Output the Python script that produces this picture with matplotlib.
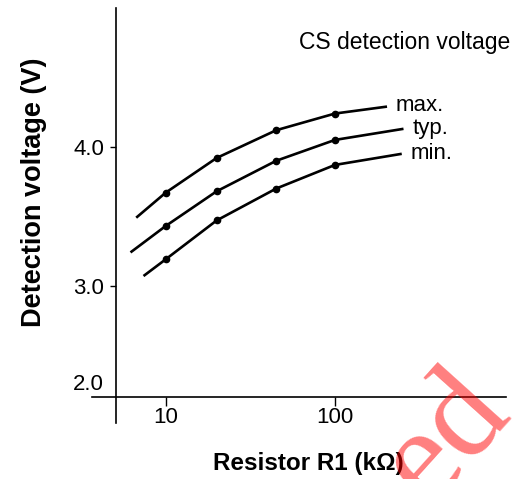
"""CS detection voltage vs resistor R1."""

import matplotlib
matplotlib.use("Agg")

import matplotlib.pyplot as plt
from matplotlib.ticker import FixedLocator, NullLocator

plt.rcParams["font.family"] = ["Liberation Sans", "DejaVu Sans"]

# ── data ─────────────────────────────────────────────────
r1_max = [6.7, 10, 20, 45, 100, 203]
v_max = [3.49, 3.67, 3.92, 4.12, 4.24, 4.29]

r1_typ = [6.2, 10, 20, 45, 100, 254]
v_typ = [3.24, 3.43, 3.68, 3.90, 4.05, 4.13]

r1_min = [7.4, 10, 20, 45, 100, 248]
v_min = [3.07, 3.19, 3.47, 3.70, 3.87, 3.95]

curve_labels = ["max.", "typ.", "min."]
x_ticks = [10, 100]
x_tick_labels = ["10", "100"]
y_ticks = [3.0, 4.0]
y_tick_labels = ["3.0", "4.0"]

fig = plt.figure(figsize=(5.16, 4.79), dpi=100)
ax = fig.add_axes([116 / 516, 82.3 / 479, 390 / 516, 388.7 / 479])

series = [(r1_max, v_max), (r1_typ, v_typ), (r1_min, v_min)]
for (xs, ys), name in zip(series, curve_labels):
    ax.plot(xs, ys, color="black", lw=1.9, solid_capstyle="butt")
    # dots only on the measured interior points
    ax.plot(xs[1:-1], ys[1:-1], "o", color="black", ms=4.5)
    ax.annotate(name, xy=(xs[-1], ys[-1]), xytext=(6.5, -3.5),
                textcoords="offset points", ha="left", va="baseline",
                fontsize=16)

ax.set_xscale("log")
ax.set_xlim(5.09, 1024)
ax.set_ylim(2.201, 5.0)

for s in ax.spines.values():
    s.set_visible(False)

# axis lines that run past the corner, as in the reference
ax.plot([0, 0], [-0.068, 1], transform=ax.transAxes, color="black",
        lw=1.2, clip_on=False)
ax.plot([-0.062, 1], [0, 0], transform=ax.transAxes, color="black",
        lw=1.2, clip_on=False)

ax.xaxis.set_major_locator(FixedLocator(x_ticks))
ax.xaxis.set_minor_locator(NullLocator())
ax.set_xticklabels(x_tick_labels)
ax.set_yticks(y_ticks)
ax.set_yticklabels(y_tick_labels)
ax.tick_params(axis="x", direction="out", length=6.5, width=1, pad=1,
               labelsize=16)
ax.tick_params(axis="y", direction="out", length=4.3, width=1, pad=4.3,
               labelsize=16)

ax.annotate("2.0", xy=(0, 0), xycoords="axes fraction", xytext=(-8.6, 8.6),
            textcoords="offset points", ha="right", va="center", fontsize=16)

fig.text(510 / 516, (479 - 42) / 479, "CS detection voltage", ha="right",
         va="center", fontsize=16.5)
fig.text(41 / 516, (479 - 192) / 479, "Detection voltage (V)", rotation=90,
         rotation_mode="anchor", ha="center", va="baseline", fontsize=19.5,
         fontweight="bold")
fig.text(308 / 516, (479 - 470) / 479, "Resistor R1 (k\u03a9)", ha="center",
         va="baseline", fontsize=17.5, fontweight="bold")

# red stamp at the lower right, cut off by the figure edge
fig.text(428 / 516, (479 - 506) / 479, "ed", rotation=48,
         rotation_mode="anchor", ha="left", va="baseline", fontsize=96,
         family="Liberation Serif", color="red", alpha=0.5)

fig.savefig("out.png", dpi=100)
